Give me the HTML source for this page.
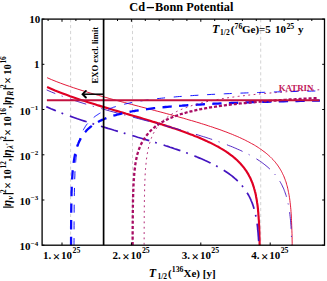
<!DOCTYPE html>
<html><head><meta charset="utf-8">
<style>
html,body{margin:0;padding:0;background:#fff;}
body{width:327px;height:281px;overflow:hidden;}
svg{display:block;}
</style></head><body>
<svg width="327" height="281" viewBox="0 0 327 281">
<rect width="327" height="281" fill="#fff"/>
<path d="M70.6 19.1V245.2M132.5 19.1V245.2M260.7 19.1V245.2" stroke="#c2c2c2" stroke-width="0.7" stroke-dasharray="3.2 2.7" fill="none"/>
<clipPath id="c"><rect x="42.1" y="19.1" width="282.4" height="226.1"/></clipPath>
<g clip-path="url(#c)" fill="none">
<path d="M47.1 87.0 51.0 88.7 55.0 90.4 58.8 91.9 62.7 93.4 66.4 94.8 70.1 96.2 73.8 97.5 77.4 98.7 81.0 99.9 84.6 101.1 88.0 102.2 91.5 103.3 94.9 104.3 98.2 105.4 101.5 106.4 104.8 107.4 108.0 108.3 111.2 109.3 114.3 110.2 117.4 111.1 120.4 112.0 123.4 112.9 126.3 113.8 129.2 114.6 132.1 115.5 134.9 116.3 137.7 117.1 140.4 117.9 143.1 118.7 145.8 119.5 148.4 120.3 151.0 121.1 153.5 121.9 156.0 122.6 158.5 123.4 160.9 124.1 163.3 124.9 165.6 125.6 167.9 126.4 170.2 127.1 172.4 127.9 174.6 128.6 176.7 129.3 178.9 130.1 180.9 130.8 183.0 131.5 185.0 132.2 187.0 133.0 188.9 133.7 190.8 134.4 192.7 135.1 194.5 135.9 196.3 136.6 198.1 137.3 199.8 138.0 201.5 138.8 203.2 139.5 204.8 140.2 206.4 140.9 208.0 141.7 209.6 142.4 211.1 143.1 212.6 143.9 214.0 144.6 215.4 145.4 216.8 146.1 218.2 146.8 219.5 147.6 220.8 148.4 222.1 149.1 223.4 149.9 224.6 150.7 225.8 151.4 226.9 152.2 228.1 153.0 229.2 153.8 230.3 154.6 231.3 155.4 232.4 156.2 233.4 157.0 234.4 157.8 235.3 158.6 236.3 159.5 237.2 160.3 238.1 161.2 238.9 162.0 239.8 162.9 240.6 163.8 241.4 164.7 242.2 165.6 242.9 166.5 243.7 167.4 244.4 168.3 245.1 169.3 245.7 170.2 246.4 171.2 247.0 172.2 247.6 173.1 248.2 174.1 248.8 175.2 249.3 176.2 249.9 177.2 250.4 178.3 250.9 179.4 251.3 180.5 251.8 181.6 252.3 182.7 252.7 183.9 253.1 185.1 253.5 186.3 253.9 187.5 254.2 188.7 254.6 190.0 254.9 191.3 255.3 192.6 255.6 194.0 255.9 195.3 256.1 196.7 256.4 198.2 256.7 199.7 256.9 201.2 257.1 202.7 257.4 204.3 257.6 205.9 257.8 207.6 258.0 209.3 258.1 211.1 258.3 212.9 258.4 214.8 258.6 216.7 258.7 218.8 258.9 220.8 259.0 223.0 259.1 225.2 259.2 227.5 259.3 229.9 259.4 232.5 259.4 235.1 259.5 237.8 259.6 240.7 259.6 243.7 259.7 246.9 259.7 250.3 259.8 253.9 259.8 257.7 259.9 261.7 259.9 265.2 259.9 265.2 259.9 265.2 259.9 265.2 260.0 265.2 260.0 265.2 260.0 265.2 260.0 265.2 260.0 265.2 260.0 265.2 260.0 265.2 260.0 265.2 260.0 265.2 260.0 265.2" stroke="#e00024" stroke-width="2.15"/>
<path d="M47.1 77.7 51.7 79.7 56.2 81.5 60.6 83.2 65.0 84.8 69.4 86.3 73.7 87.8 77.9 89.2 82.1 90.5 86.2 91.8 90.3 93.0 94.3 94.2 98.3 95.3 102.2 96.4 106.0 97.5 109.8 98.6 113.6 99.6 117.3 100.6 120.9 101.6 124.5 102.5 128.1 103.5 131.6 104.4 135.0 105.3 138.4 106.2 141.8 107.1 145.1 107.9 148.3 108.8 151.5 109.6 154.7 110.5 157.8 111.3 160.9 112.1 163.9 112.9 166.8 113.7 169.8 114.5 172.6 115.3 175.5 116.0 178.2 116.8 181.0 117.6 183.7 118.3 186.3 119.1 188.9 119.9 191.5 120.6 194.0 121.3 196.5 122.1 199.0 122.8 201.4 123.6 203.7 124.3 206.0 125.0 208.3 125.8 210.5 126.5 212.7 127.2 214.9 128.0 217.0 128.7 219.1 129.4 221.1 130.1 223.1 130.9 225.1 131.6 227.0 132.3 228.9 133.1 230.8 133.8 232.6 134.5 234.3 135.3 236.1 136.0 237.8 136.7 239.5 137.5 241.1 138.2 242.7 139.0 244.3 139.7 245.8 140.5 247.3 141.3 248.8 142.0 250.2 142.8 251.6 143.6 253.0 144.3 254.4 145.1 255.7 145.9 257.0 146.7 258.2 147.5 259.4 148.3 260.6 149.1 261.8 149.9 262.9 150.8 264.0 151.6 265.1 152.4 266.2 153.3 267.2 154.1 268.2 155.0 269.2 155.9 270.1 156.7 271.0 157.6 271.9 158.5 272.8 159.4 273.6 160.4 274.5 161.3 275.3 162.2 276.0 163.2 276.8 164.1 277.5 165.1 278.2 166.1 278.9 167.1 279.5 168.1 280.2 169.2 280.8 170.2 281.4 171.3 282.0 172.4 282.5 173.5 283.0 174.6 283.6 175.7 284.1 176.9 284.5 178.1 285.0 179.2 285.4 180.5 285.9 181.7 286.3 183.0 286.6 184.3 287.0 185.6 287.4 186.9 287.7 188.3 288.0 189.7 288.3 191.2 288.6 192.6 288.9 194.2 289.2 195.7 289.4 197.3 289.7 198.9 289.9 200.6 290.1 202.3 290.3 204.1 290.5 205.9 290.7 207.8 290.9 209.7 291.0 211.7 291.2 213.8 291.3 216.0 291.4 218.2 291.5 220.5 291.6 222.9 291.7 225.4 291.8 228.1 291.9 230.8 292.0 233.7 292.1 236.7 292.1 239.9 292.2 243.3 292.2 246.9 292.3 250.7 292.3 254.7 292.3 259.1 292.4 263.8 292.4 265.2 292.4 265.2 292.4 265.2 292.4 265.2 292.5 265.2 292.5 265.2 292.5 265.2 292.5 265.2 292.5 265.2 292.5 265.2 292.5 265.2 292.5 265.2" stroke="#e00024" stroke-width="0.9"/>
<path d="M47.1 107.0 51.0 108.8 55.0 110.4 58.8 112.0 62.6 113.5 66.4 114.9 70.1 116.2 73.8 117.5 77.4 118.8 81.0 120.0 84.5 121.1 88.0 122.2 91.4 123.3 94.8 124.4 98.2 125.4 101.5 126.4 104.7 127.4 107.9 128.4 111.1 129.3 114.2 130.3 117.3 131.2 120.3 132.1 123.3 132.9 126.3 133.8 129.2 134.7 132.0 135.5 134.8 136.3 137.6 137.2 140.3 138.0 143.0 138.8 145.7 139.6 148.3 140.4 150.9 141.1 153.4 141.9 155.9 142.7 158.4 143.4 160.8 144.2 163.2 144.9 165.5 145.7 167.8 146.4 170.1 147.2 172.3 147.9 174.5 148.7 176.6 149.4 178.7 150.1 180.8 150.8 182.9 151.6 184.9 152.3 186.8 153.0 188.8 153.7 190.7 154.5 192.5 155.2 194.4 155.9 196.2 156.6 197.9 157.4 199.7 158.1 201.4 158.8 203.0 159.5 204.7 160.3 206.3 161.0 207.9 161.7 209.4 162.4 210.9 163.2 212.4 163.9 213.8 164.7 215.3 165.4 216.7 166.1 218.0 166.9 219.4 167.6 220.7 168.4 221.9 169.2 223.2 169.9 224.4 170.7 225.6 171.5 226.8 172.3 227.9 173.0 229.0 173.8 230.1 174.6 231.2 175.4 232.2 176.2 233.2 177.0 234.2 177.9 235.1 178.7 236.1 179.5 237.0 180.4 237.9 181.2 238.7 182.1 239.6 183.0 240.4 183.8 241.2 184.7 242.0 185.6 242.7 186.5 243.5 187.4 244.2 188.4 244.9 189.3 245.5 190.3 246.2 191.2 246.8 192.2 247.4 193.2 248.0 194.2 248.6 195.2 249.1 196.2 249.7 197.3 250.2 198.4 250.7 199.4 251.1 200.5 251.6 201.7 252.1 202.8 252.5 203.9 252.9 205.1 253.3 206.3 253.7 207.5 254.0 208.8 254.4 210.0 254.7 211.3 255.1 212.7 255.4 214.0 255.7 215.4 255.9 216.8 256.2 218.2 256.5 219.7 256.7 221.2 256.9 222.8 257.2 224.3 257.4 226.0 257.6 227.6 257.7 229.4 257.9 231.1 258.1 233.0 258.2 234.8 258.4 236.8 258.5 238.8 258.7 240.9 258.8 243.0 258.9 245.3 259.0 247.6 259.1 250.0 259.2 252.5 259.2 255.1 259.3 257.9 259.4 260.7 259.4 263.8 259.5 265.2 259.5 265.2 259.6 265.2 259.6 265.2 259.6 265.2 259.7 265.2 259.7 265.2 259.7 265.2 259.7 265.2 259.8 265.2 259.8 265.2 259.8 265.2 259.8 265.2 259.8 265.2 259.8 265.2 259.8 265.2 259.8 265.2 259.8 265.2 259.8 265.2" stroke="#4414c0" stroke-width="1.7" stroke-linecap="square" stroke-dasharray="16 7.8 0.1 8.8" stroke-dashoffset="7.3"/>
<path d="M47.1 90.1 51.6 92.1 56.2 93.9 60.6 95.6 65.0 97.2 69.4 98.7 73.6 100.2 77.9 101.6 82.0 102.9 86.2 104.2 90.2 105.4 94.3 106.6 98.2 107.7 102.1 108.8 106.0 109.9 109.8 111.0 113.5 112.0 117.2 113.0 120.9 114.0 124.5 115.0 128.0 115.9 131.5 116.8 135.0 117.7 138.3 118.6 141.7 119.5 145.0 120.4 148.2 121.2 151.4 122.0 154.6 122.9 157.7 123.7 160.8 124.5 163.8 125.3 166.7 126.1 169.7 126.9 172.5 127.7 175.4 128.5 178.1 129.2 180.9 130.0 183.6 130.8 186.2 131.5 188.8 132.3 191.4 133.0 193.9 133.8 196.4 134.5 198.8 135.2 201.2 136.0 203.6 136.7 205.9 137.4 208.2 138.2 210.4 138.9 212.6 139.6 214.7 140.4 216.9 141.1 218.9 141.8 221.0 142.5 223.0 143.3 224.9 144.0 226.9 144.7 228.7 145.5 230.6 146.2 232.4 146.9 234.2 147.7 235.9 148.4 237.6 149.2 239.3 149.9 240.9 150.6 242.5 151.4 244.1 152.2 245.7 152.9 247.2 153.7 248.6 154.4 250.1 155.2 251.5 156.0 252.9 156.8 254.2 157.5 255.5 158.3 256.8 159.1 258.0 159.9 259.3 160.7 260.5 161.5 261.6 162.3 262.8 163.2 263.9 164.0 264.9 164.8 266.0 165.7 267.0 166.5 268.0 167.4 269.0 168.3 269.9 169.1 270.8 170.0 271.7 170.9 272.6 171.8 273.4 172.8 274.3 173.7 275.1 174.6 275.8 175.6 276.6 176.6 277.3 177.5 278.0 178.5 278.7 179.5 279.3 180.5 280.0 181.6 280.6 182.6 281.2 183.7 281.8 184.8 282.3 185.9 282.8 187.0 283.4 188.1 283.9 189.3 284.3 190.5 284.8 191.7 285.2 192.9 285.6 194.1 286.1 195.4 286.4 196.7 286.8 198.0 287.2 199.3 287.5 200.7 287.8 202.1 288.1 203.6 288.4 205.0 288.7 206.6 289.0 208.1 289.2 209.7 289.5 211.3 289.7 213.0 289.9 214.7 290.1 216.5 290.3 218.3 290.5 220.2 290.7 222.1 290.8 224.2 291.0 226.2 291.1 228.4 291.2 230.6 291.3 232.9 291.4 235.3 291.5 237.9 291.6 240.5 291.7 243.2 291.8 246.1 291.9 249.1 291.9 252.3 292.0 255.7 292.0 259.3 292.1 263.1 292.1 265.2 292.1 265.2 292.2 265.2 292.2 265.2 292.2 265.2 292.2 265.2 292.2 265.2 292.2 265.2 292.3 265.2 292.3 265.2 292.3 265.2 292.3 265.2 292.3 265.2 292.3 265.2 292.3 265.2" stroke="#4414c0" stroke-width="0.9" stroke-linecap="square" stroke-dasharray="16 7.8 0.1 8.8" stroke-dashoffset="7.6"/>
<path d="M71.06 245.20 71.06 245.18 71.06 245.07 71.06 244.77 71.06 244.20 71.06 243.28 71.07 242.00 71.07 240.33 71.08 238.31 71.08 236.00 71.09 233.44 71.10 230.71 71.11 227.87 71.13 224.97 71.14 222.06 71.16 219.16 71.19 216.31 71.21 213.50 71.24 210.77 71.27 208.11 71.31 205.52 71.35 203.01 71.39 200.58 71.4 198.2 71.5 195.9 71.5 193.7 71.6 191.6 71.7 189.5 71.7 187.5 71.8 185.6 71.9 183.7 72.0 181.9 72.1 180.1 72.2 178.4 72.3 176.7 72.4 175.1 72.5 173.5 72.6 171.9 72.8 170.4 72.9 169.0 73.0 167.5 73.2 166.1 73.4 164.8 73.5 163.5 73.7 162.2 73.9 160.9 74.1 159.7 74.3 158.5 74.5 157.3 74.7 156.1 74.9 155.0 75.2 153.9 75.4 152.8 75.7 151.8 75.9 150.8 76.2 149.7 76.5 148.8 76.8 147.8 77.1 146.8 77.4 145.9 77.7 145.0 78.1 144.1 78.4 143.2 78.8 142.4 79.2 141.6 79.6 140.7 80.0 139.9 80.4 139.1 80.8 138.4 81.2 137.6 81.7 136.9 82.1 136.1 82.6 135.4 83.1 134.7 83.6 134.0 84.1 133.3 84.7 132.7 85.2 132.0 85.8 131.4 86.3 130.8 86.9 130.1 87.5 129.5 88.1 128.9 88.8 128.4 89.4 127.8 90.1 127.2 90.8 126.7 91.5 126.1 92.2 125.6 92.9 125.1 93.6 124.6 94.4 124.1 95.2 123.6 96.0 123.1 96.8 122.6 97.6 122.1 98.5 121.7 99.3 121.2 100.2 120.8 101.1 120.4 102.0 119.9 103.0 119.5 103.9 119.1 104.9 118.7 105.9 118.3 106.9 117.9 107.9 117.5 109.0 117.2 110.1 116.8 111.2 116.4 112.3 116.1 113.4 115.7 114.6 115.4 115.7 115.1 116.9 114.7 118.2 114.4 119.4 114.1 120.7 113.8 121.9 113.5 123.2 113.2 124.6 112.9 125.9 112.6 127.3 112.3 128.7 112.0 130.1 111.8 131.5 111.5 133.0 111.2 134.5 111.0 136.0 110.7 137.5 110.5 139.1 110.2 140.7 110.0 142.3 109.7 143.9 109.5 145.6 109.3 147.2 109.1 149.0 108.8 150.7 108.6 152.4 108.4 154.2 108.2 156.0 108.0 157.9 107.8 159.7 107.6 161.6 107.4 163.5 107.2 165.5 107.0 167.4 106.9 169.4 106.7 171.4 106.5 173.5 106.3 175.6 106.2 177.7 106.0 179.8 105.8 182.0 105.7 184.2 105.5 186.4 105.3 188.6 105.2 190.9 105.0 193.2 104.9 195.5 104.8 197.9 104.6 200.3 104.5 202.7 104.3 205.2 104.2 207.6 104.1 210.2 103.9 212.7 103.8 215.3 103.7 217.9 103.6 220.5 103.4 223.2 103.3 225.9 103.2 228.6 103.1 231.4 103.0 234.2 102.9 237.0 102.8 239.9 102.7 242.8 102.5 245.7 102.4 248.7 102.3 251.6 102.2 254.7 102.1 257.7 102.0 260.8 102.0 264.0 101.9 267.1 101.8 270.3 101.7 273.5 101.6 276.8 101.5 280.1 101.4 283.4 101.3 286.8 101.2 290.2 101.2 293.7 101.1 297.1 101.0 300.7 100.9 304.2 100.9 307.8 100.8 311.4 100.7 315.1 100.6 318.8 100.6" stroke="#0808ff" stroke-width="2.3" stroke-linecap="square" stroke-dasharray="7 9.64" stroke-dashoffset="-0.3"/>
<path d="M74.03 245.20 74.03 245.17 74.03 245.00 74.03 244.53 74.03 243.64 74.03 242.26 74.04 240.37 74.04 238.00 74.05 235.24 74.05 232.18 74.06 228.93 74.07 225.57 74.08 222.18 74.10 218.81 74.11 215.50 74.13 212.27 74.16 209.12 74.18 206.09 74.21 203.15 74.24 200.32 74.3 197.6 74.3 195.0 74.4 192.4 74.4 190.0 74.5 187.6 74.5 185.4 74.6 183.2 74.6 181.1 74.7 179.0 74.8 177.0 74.9 175.1 74.9 173.2 75.0 171.4 75.1 169.7 75.2 168.0 75.3 166.3 75.5 164.7 75.6 163.2 75.7 161.7 75.8 160.2 76.0 158.7 76.1 157.3 76.3 156.0 76.5 154.6 76.6 153.3 76.8 152.1 77.0 150.8 77.2 149.6 77.4 148.4 77.6 147.3 77.9 146.1 78.1 145.0 78.3 144.0 78.6 142.9 78.8 141.9 79.1 140.8 79.4 139.9 79.7 138.9 80.0 137.9 80.3 137.0 80.6 136.1 81.0 135.2 81.3 134.3 81.7 133.5 82.0 132.6 82.4 131.8 82.8 131.0 83.2 130.2 83.6 129.4 84.1 128.6 84.5 127.9 85.0 127.1 85.4 126.4 85.9 125.7 86.4 125.0 86.9 124.3 87.5 123.7 88.0 123.0 88.5 122.4 89.1 121.7 89.7 121.1 90.3 120.5 90.9 119.9 91.5 119.3 92.2 118.7 92.8 118.2 93.5 117.6 94.2 117.1 94.9 116.5 95.6 116.0 96.3 115.5 97.1 115.0 97.9 114.5 98.6 114.0 99.4 113.5 100.3 113.0 101.1 112.6 102.0 112.1 102.8 111.6 103.7 111.2 104.6 110.8 105.6 110.4 106.5 109.9 107.5 109.5 108.4 109.1 109.4 108.7 110.5 108.3 111.5 108.0 112.6 107.6 113.6 107.2 114.8 106.9 115.9 106.5 117.0 106.2 118.2 105.8 119.4 105.5 120.6 105.2 121.8 104.8 123.0 104.5 124.3 104.2 125.6 103.9 126.9 103.6 128.2 103.3 129.6 103.0 131.0 102.7 132.4 102.5 133.8 102.2 135.2 101.9 136.7 101.6 138.2 101.4 139.7 101.1 141.2 100.9 142.8 100.6 144.4 100.4 146.0 100.2 147.6 99.9 149.3 99.7 151.0 99.5 152.7 99.3 154.4 99.0 156.2 98.8 158.0 98.6 159.8 98.4 161.6 98.2 163.5 98.0 165.4 97.8 167.3 97.6 169.2 97.4 171.2 97.2 173.2 97.1 175.2 96.9 177.3 96.7 179.4 96.5 181.5 96.4 183.6 96.2 185.8 96.0 188.0 95.9 190.2 95.7 192.4 95.6 194.7 95.4 197.0 95.3 199.3 95.1 201.7 95.0 204.1 94.8 206.5 94.7 209.0 94.6 211.5 94.4 214.0 94.3 216.5 94.2 219.1 94.0 221.7 93.9 224.3 93.8 227.0 93.7 229.7 93.6 232.4 93.4 235.2 93.3 238.0 93.2 240.8 93.1 243.7 93.0 246.6 92.9 249.5 92.8 252.5 92.7 255.4 92.6 258.5 92.5 261.5 92.4 264.6 92.3 267.7 92.2 270.9 92.1 274.1 92.0 277.3 91.9 280.6 91.8 283.9 91.7 287.2 91.7 290.6 91.6 294.0 91.5 297.4 91.4 300.9 91.3 304.4 91.2 307.9 91.2 311.5 91.1 315.1 91.0 318.8 90.9" stroke="#0808ff" stroke-width="0.95" stroke-linecap="square" stroke-dasharray="7 9.72" stroke-dashoffset="0.4"/>
<path d="M132.61 245.20 132.61 245.19 132.61 245.12 132.61 244.93 132.61 244.56 132.62 243.97 132.62 243.12 132.62 241.99 132.62 240.58 132.63 238.91 132.64 237.01 132.64 234.91 132.65 232.65 132.66 230.28 132.68 227.84 132.69 225.36 132.71 222.86 132.73 220.36 132.75 217.89 132.77 215.46 132.80 213.06 132.83 210.72 132.86 208.43 132.89 206.19 132.93 204.02 132.97 201.90 133.0 199.8 133.1 197.8 133.1 195.9 133.2 194.0 133.2 192.1 133.3 190.3 133.4 188.6 133.4 186.9 133.5 185.2 133.6 183.6 133.7 182.0 133.8 180.5 133.9 179.0 134.0 177.5 134.1 176.1 134.2 174.7 134.3 173.3 134.4 172.0 134.6 170.7 134.7 169.4 134.9 168.1 135.0 166.9 135.2 165.7 135.3 164.5 135.5 163.4 135.7 162.3 135.9 161.2 136.1 160.1 136.3 159.0 136.5 158.0 136.7 157.0 136.9 156.0 137.2 155.0 137.4 154.0 137.7 153.1 138.0 152.1 138.3 151.2 138.6 150.3 138.9 149.4 139.2 148.6 139.6 147.7 139.9 146.9 140.3 146.0 140.6 145.2 141.0 144.4 141.4 143.6 141.8 142.9 142.2 142.1 142.6 141.4 143.0 140.6 143.5 139.9 143.9 139.2 144.4 138.5 144.8 137.8 145.3 137.1 145.8 136.4 146.3 135.8 146.8 135.1 147.3 134.5 147.8 133.9 148.3 133.2 148.9 132.6 149.4 132.0 150.0 131.4 150.6 130.8 151.2 130.2 151.8 129.7 152.4 129.1 153.0 128.6 153.7 128.0 154.3 127.5" stroke="#a80c64" stroke-width="2.3" stroke-linecap="square" stroke-dasharray="0.8 4.521" stroke-dashoffset="4.0"/>
<path d="M154.3 127.5 155.0 126.9 155.7 126.4 156.3 125.9 157.0 125.4 157.8 124.9 158.5 124.4 159.2 123.9 160.0 123.4 160.7 123.0 161.5 122.5 162.3 122.0 163.1 121.6 163.9 121.1 164.8 120.7 165.6 120.2 166.5 119.8 167.3 119.4 168.2 119.0 169.1 118.6 170.1 118.2 171.0 117.7 172.0 117.4 172.9 117.0 173.9 116.6 174.9 116.2 176.0 115.8 177.0 115.5 178.0 115.1 179.1 114.7 180.2 114.4 181.3 114.0 182.4 113.7 183.6 113.3 184.8 113.0 185.9 112.7 187.1 112.3 188.3 112.0 189.6 111.7 190.8 111.4 192.1 111.1 193.4 110.8 194.7 110.5 196.0 110.2 197.4 109.9 198.8 109.6 200.1 109.3 201.5 109.0 203.0 108.8 204.4 108.5 205.9 108.2 207.4 108.0 208.9 107.7 210.4 107.4 212.0 107.2 213.5 106.9 215.1 106.7 216.7 106.4 218.4 106.2 220.0 106.0 221.7 105.7 223.4 105.5 225.1 105.3 226.9 105.0 228.6 104.8 230.4 104.6 232.2 104.4 234.0 104.2 235.9 104.0 237.8 103.8 239.7 103.5 241.6 103.3 243.5 103.1 245.5 103.0 247.5 102.8 249.5 102.6 251.5 102.4 253.6 102.2 255.7 102.0 257.8 101.8 259.9 101.7 262.1 101.5 264.3 101.3 266.5 101.1 268.7 101.0 271.0 100.8 273.2 100.6 275.6 100.5 277.9 100.3 280.2 100.2 282.6 100.0 285.0 99.8 287.5 99.7 289.9 99.5 292.4 99.4 294.9 99.3 297.5 99.1 300.1 99.0 302.6 98.8 305.3 98.7 307.9 98.6 310.6 98.4 313.3 98.3 316.0 98.2 318.8 98.0" stroke="#a80c64" stroke-width="2.3" stroke-linecap="square" stroke-dasharray="0.8 4.2" stroke-dashoffset="0.0"/>
<path d="M144.13 245.20 144.13 245.19 144.13 245.08 144.13 244.81 144.13 244.30 144.13 243.47 144.13 242.31 144.14 240.78 144.14 238.93 144.15 236.77 144.15 234.38 144.16 231.80 144.17 229.10 144.18 226.33 144.19 223.52 144.20 220.71 144.22 217.93 144.24 215.19 144.26 212.51 144.28 209.89 144.30 207.34 144.33 204.86 144.36 202.46 144.40 200.12 144.4 197.9 144.5 195.7 144.5 193.5 144.6 191.5 144.6 189.5 144.7 187.5 144.7 185.6 144.8 183.8 144.8 182.0 144.9 180.3 145.0 178.6 145.1 176.9 145.1 175.3 145.2 173.8 145.3 172.3 145.4 170.8 145.5 169.3 145.6 167.9 145.7 166.5 145.9 165.2 146.0 163.9 146.1 162.6 146.3 161.3 146.4 160.1 146.5 158.9 146.7 157.7 146.9 156.6 147.0 155.4 147.2 154.3 147.4 153.2 147.6 152.2 147.8 151.1 148.0 150.1 148.2 149.1 148.4 148.1 148.6 147.1 148.8 146.2 149.1 145.2 149.3 144.3 149.6 143.4 149.9 142.5 150.1 141.6 150.4 140.8 150.7 139.9 151.0 139.1 151.3 138.3 151.6 137.5 151.9 136.7 152.3 135.9 152.6 135.1 153.0 134.4 153.3 133.6 153.7 132.9 154.1 132.2 154.5 131.5 154.9 130.8 155.3 130.1 155.7 129.4 156.2 128.7 156.6 128.1 157.1 127.4 157.5 126.8 158.0 126.1 158.5 125.5 159.0 124.9 159.5 124.3 160.0 123.7 160.6 123.1 161.1 122.5 161.7 122.0 162.3 121.4 162.8 120.9 163.4 120.3 164.1 119.8 164.7 119.2 165.3 118.7 166.0 118.2 166.6 117.7 167.3 117.2 168.0 116.7 168.7 116.2 169.4 115.7 170.1 115.2 170.9 114.8 171.6 114.3 172.4 113.8 173.2 113.4 174.0 112.9 174.8 112.5 175.6 112.1 176.5 111.6 177.3 111.2 178.2 110.8 179.1 110.4 180.0 110.0 180.9 109.6 181.9 109.2 182.8 108.8 183.8 108.4 184.8 108.0 185.8 107.7 186.8 107.3 187.8 106.9 188.8 106.6 189.9 106.2 191.0 105.9 192.1 105.5 193.2 105.2 194.3 104.8 195.5 104.5 196.7 104.2 197.8 103.8 199.0 103.5 200.3 103.2 201.5 102.9 202.8 102.6 204.0 102.3 205.3 102.0 206.6 101.7 208.0 101.4 209.3 101.1 210.7 100.8 212.1 100.6 213.5 100.3 214.9 100.0 216.3 99.7 217.8 99.5 219.3 99.2 220.8 98.9 222.3 98.7 223.9 98.4 225.4 98.2 227.0 97.9 228.6 97.7 230.2 97.5 231.9 97.2 233.6 97.0 235.2 96.8 236.9 96.5 238.7 96.3 240.4 96.1 242.2 95.9 244.0 95.7 245.8 95.4 247.6 95.2 249.5 95.0 251.4 94.8 253.3 94.6 255.2 94.4 257.2 94.2 259.1 94.0 261.1 93.8 263.1 93.7 265.2 93.5 267.3 93.3 269.3 93.1 271.4 92.9 273.6 92.7 275.7 92.6 277.9 92.4 280.1 92.2 282.4 92.1 284.6 91.9 286.9 91.7 289.2 91.6 291.5 91.4 293.9 91.3 296.2 91.1 298.6 90.9 301.1 90.8 303.5 90.6 306.0 90.5 308.5 90.4 311.0 90.2 313.6 90.1 316.2 89.9 318.8 89.8" stroke="#a80c64" stroke-width="0.9" stroke-linecap="square" stroke-dasharray="0.8 4.536" stroke-dashoffset="4.26"/>
<path d="M46.9 100.15H319.5" stroke="#c4113f" stroke-width="2"/>
</g>
<path d="M103.6 19.1V245.2" stroke="#000" stroke-width="1.7"/>
<g stroke="#000" stroke-width="1.5" fill="none">
<path d="M103.2 94.2H83.5"/>
<path d="M85.9 90.9L82.6 94.2L85.9 97.5" stroke-width="1.9" stroke-linecap="round"/>
</g>
<rect x="42.1" y="19.1" width="282.4" height="226.1" fill="none" stroke="#000" stroke-width="1.3"/>
<path d="M48.1 19.1v1.9M62.0 245.2v-2.7M62.0 19.1v2.7M75.9 19.1v1.9M89.8 19.1v1.9M103.6 19.1v1.9M117.5 19.1v1.9M131.4 245.2v-2.7M131.4 19.1v2.7M145.3 19.1v1.9M159.2 19.1v1.9M173.0 19.1v1.9M186.9 19.1v1.9M200.8 245.2v-2.7M200.8 19.1v2.7M214.7 19.1v1.9M228.6 19.1v1.9M242.4 19.1v1.9M256.3 19.1v1.9M270.2 245.2v-2.7M270.2 19.1v2.7M284.1 19.1v1.9M298.0 19.1v1.9M311.8 19.1v1.9M42.1 245.2h2.3M324.5 245.2h-2.3M42.1 200.0h2.3M324.5 200.0h-2.3M42.1 154.8h2.3M324.5 154.8h-2.3M42.1 109.5h2.3M324.5 109.5h-2.3M42.1 64.3h2.3M324.5 64.3h-2.3M42.1 19.1h2.3M324.5 19.1h-2.3" stroke="#000" stroke-width="1" fill="none"/>
<g transform="translate(129.30,10.90)" fill="#000" font-family="'Liberation Serif', serif" font-weight="bold" font-size="12.3"><text x="0" y="0">Cd</text></g>
<path d="M146.7 7.6H154" stroke="#000" stroke-width="1.3"/>
<g transform="translate(155.10,10.90)" fill="#000" font-family="'Liberation Serif', serif" font-weight="bold" font-size="12.3"><text x="0" y="0">Bonn Potential</text></g>
<g transform="translate(212.00,33.40)" fill="#000" font-family="'Liberation Serif', serif" font-weight="bold" font-size="11"><text x="0" y="0" font-style="italic" font-size="12">T</text><text x="8.1" y="1.9" font-size="7.5">1/2</text><text x="18.73" y="0">(</text><text x="22.5" y="-4.8" font-size="7.8">76</text><text x="30" y="0">Ge)</text><text x="47.1" y="0">=5</text><text x="63.02" y="0">10</text><text x="74.42" y="-4.8" font-size="7.8">25</text><text x="85.97" y="0">y</text></g>
<g transform="translate(148.70,276.70)" fill="#000" font-family="'Liberation Serif', serif" font-weight="bold" font-size="11"><text x="0" y="0" font-style="italic" font-size="12">T</text><text x="8.7" y="1.9" font-size="7.5">1/2</text><text x="19.33" y="0">(</text><text x="23.1" y="-4.8" font-size="7.8">136</text><text x="34.8" y="0">Xe)</text><text x="54.04" y="0">[y]</text></g>
<g transform="translate(278.70,90.50)" fill="#c2185b" font-family="'Liberation Serif', serif" font-weight="bold" font-size="8.85"><text x="0" y="0">KATRIN</text></g>
<g transform="translate(98.10,83.40) rotate(-90)" fill="#000" font-family="'Liberation Serif', serif" font-weight="bold" font-size="8.6"><text x="0" y="0">EXO excl. limit</text></g>
<g transform="translate(62.00,259.40)" fill="#000" font-family="'Liberation Serif', serif" font-weight="bold" font-size="11"><text x="-19" y="0">1.</text><text x="-9.2" y="1.5" font-size="13">×</text><text x="-0.9" y="0">10</text><text x="10.5" y="-6.1" font-size="7.8">25</text></g>
<g transform="translate(131.40,259.40)" fill="#000" font-family="'Liberation Serif', serif" font-weight="bold" font-size="11"><text x="-19" y="0">2.</text><text x="-9.2" y="1.5" font-size="13">×</text><text x="-0.9" y="0">10</text><text x="10.5" y="-6.1" font-size="7.8">25</text></g>
<g transform="translate(200.80,259.40)" fill="#000" font-family="'Liberation Serif', serif" font-weight="bold" font-size="11"><text x="-19" y="0">3.</text><text x="-9.2" y="1.5" font-size="13">×</text><text x="-0.9" y="0">10</text><text x="10.5" y="-6.1" font-size="7.8">25</text></g>
<g transform="translate(270.20,259.40)" fill="#000" font-family="'Liberation Serif', serif" font-weight="bold" font-size="11"><text x="-19" y="0">4.</text><text x="-9.2" y="1.5" font-size="13">×</text><text x="-0.9" y="0">10</text><text x="10.5" y="-6.1" font-size="7.8">25</text></g>
<g transform="translate(40.20,22.80)" fill="#000" font-family="'Liberation Serif', serif" font-weight="bold" font-size="11"><text x="-11" y="0">10</text></g>
<g transform="translate(39.50,68.02)" fill="#000" font-family="'Liberation Serif', serif" font-weight="bold" font-size="11"><text x="-5.5" y="0">1</text></g>
<g transform="translate(38.20,114.54)" fill="#000" font-family="'Liberation Serif', serif" font-weight="bold" font-size="11"><text x="-18.79" y="0">10</text><text x="-7.49" y="-4.5" font-size="7">−1</text></g>
<g transform="translate(38.20,159.76)" fill="#000" font-family="'Liberation Serif', serif" font-weight="bold" font-size="11"><text x="-18.79" y="0">10</text><text x="-7.49" y="-4.5" font-size="7">−2</text></g>
<g transform="translate(38.20,204.98)" fill="#000" font-family="'Liberation Serif', serif" font-weight="bold" font-size="11"><text x="-18.79" y="0">10</text><text x="-7.49" y="-4.5" font-size="7">−3</text></g>
<g transform="translate(38.20,250.20)" fill="#000" font-family="'Liberation Serif', serif" font-weight="bold" font-size="11"><text x="-18.79" y="0">10</text><text x="-7.49" y="-4.5" font-size="7">−4</text></g>
<g transform="translate(11.00,207.20) rotate(-90)" fill="#000" font-family="'Liberation Serif', serif" font-weight="bold" font-size="10.5"><text x="0.86" y="0.25" font-style="italic" font-size="11.6">η</text><text x="7.63" y="2.1" font-style="italic" font-size="7.8">ν</text><text x="14.29" y="-4.7" font-size="7.3">2</text><text x="18.45" y="0.9" font-size="11.5">×</text><text x="27.46" y="0">10</text><text x="38.72" y="-4.7" font-size="7.3">12</text><text x="45.96" y="0">,</text><text x="51.36" y="0.25" font-style="italic" font-size="11.6">η</text><text x="58.47" y="2.1" font-style="italic" font-size="7.8">λ</text><text x="61.89" y="1.2" font-style="italic" font-size="7.8">′</text><text x="67.39" y="-4.7" font-size="7.3">2</text><text x="71.55" y="0.9" font-size="11.5">×</text><text x="80.56" y="0">10</text><text x="91.82" y="-4.7" font-size="7.3">16</text><text x="99.06" y="0">,</text><text x="104.26" y="0.25" font-style="italic" font-size="11.6">η</text><text x="111.11" y="2.1" font-style="italic" font-size="7.8">R</text><text x="119.19" y="-4.7" font-size="7.3">2</text><text x="123.35" y="0.9" font-size="11.5">×</text><text x="132.36" y="0">10</text><text x="143.62" y="-4.7" font-size="7.3">16</text><path d="M0.10 -7.9V2.6" stroke="#000" stroke-width="1.2"/><path d="M13.60 -7.9V2.6" stroke="#000" stroke-width="1.2"/><path d="M50.60 -7.9V2.6" stroke="#000" stroke-width="1.2"/><path d="M66.70 -7.9V2.6" stroke="#000" stroke-width="1.2"/><path d="M103.50 -7.9V2.6" stroke="#000" stroke-width="1.2"/><path d="M118.50 -7.9V2.6" stroke="#000" stroke-width="1.2"/></g>
</svg>
</body></html>
